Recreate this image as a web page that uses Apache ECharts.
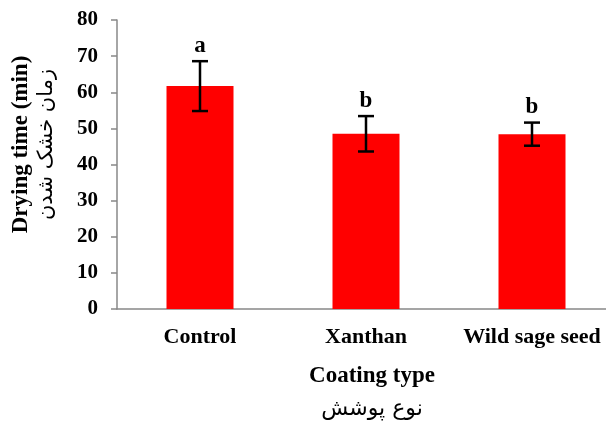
<!DOCTYPE html>
<html>
<head>
<meta charset="utf-8">
<script src="https://cdn.jsdelivr.net/npm/echarts@6/dist/echarts.min.js"></script>
<style>
html,body{margin:0;padding:0;background:#fff;}
#chart{width:606px;height:422px;}
</style>
</head>
<body>
<div id="chart"></div>
<script>
const categories = ['Control', 'Xanthan', 'Wild sage seed'];
const means = [61.7, 48.5, 48.4];
const errors = [6.9, 4.9, 3.2];
const letters = ['a', 'b', 'b'];
const yTicks = [0, 10, 20, 30, 40, 50, 60, 70, 80];

const serif = 'Liberation Serif';
const arabicFont = 'DejaVu Sans';

const errData = categories.map((c, i) => [i, means[i] - errors[i], means[i] + errors[i], letters[i]]);

const chart = echarts.init(document.getElementById('chart'));
chart.setOption({
  animation: false,
  backgroundColor: '#fff',
  grid: { left: 117, top: 20, width: 498, height: 289, containLabel: false, outerBoundsMode: 'none' },
  xAxis: {
    type: 'category',
    data: categories,
    axisLine: { lineStyle: { color: '#888', width: 1.5 } },
    axisTick: { show: false },
    axisLabel: { interval: 0, color: '#000', fontFamily: serif, fontWeight: 'bold', fontSize: 22, margin: 17 },
    name: '{en|Coating type}\n{fa|نوع پوشش}',
    nameLocation: 'middle',
    nameGap: 51,
    nameTextStyle: {
      padding: [0, 0, 0, 12],
      rich: {
        en: { fontFamily: serif, fontWeight: 'bold', fontSize: 23, color: '#000', lineHeight: 33 },
        fa: { fontFamily: arabicFont, fontSize: 22, color: '#000', lineHeight: 33 }
      }
    }
  },
  yAxis: {
    type: 'value',
    min: yTicks[0],
    max: yTicks[yTicks.length - 1],
    interval: 10,
    splitLine: { show: false },
    axisLine: { show: true, lineStyle: { color: '#888', width: 1.5 } },
    axisTick: { show: true, length: 6, lineStyle: { color: '#888', width: 1.5 } },
    axisLabel: { color: '#000', fontFamily: serif, fontWeight: 'bold', fontSize: 21, margin: 19 },
    name: '{en|Drying time (min)}\n{fa|زمان خشک شدن}',
    nameLocation: 'middle',
    nameGap: 57,
    nameRotate: 90,
    nameTextStyle: {
      padding: [0, 0, 0, 40],
      rich: {
        en: { fontFamily: serif, fontWeight: 'bold', fontSize: 23, color: '#000', lineHeight: 26 },
        fa: { fontFamily: arabicFont, fontSize: 21, color: '#000', lineHeight: 26 }
      }
    }
  },
  series: [
    {
      type: 'bar',
      data: means,
      barWidth: 67,
      itemStyle: { color: '#ff0000' }
    },
    {
      type: 'custom',
      data: errData,
      z: 10,
      renderItem: function (params, api) {
        const x = api.value(0);
        const lo = api.coord([x, api.value(1)]);
        const hi = api.coord([x, api.value(2)]);
        const hw = 8;
        const style = { stroke: '#000', lineWidth: 2.5 };
        return {
          type: 'group',
          children: [
            { type: 'line', shape: { x1: hi[0], y1: hi[1], x2: lo[0], y2: lo[1] }, style: style },
            { type: 'line', shape: { x1: hi[0] - hw, y1: hi[1], x2: hi[0] + hw, y2: hi[1] }, style: style },
            { type: 'line', shape: { x1: lo[0] - hw, y1: lo[1], x2: lo[0] + hw, y2: lo[1] }, style: style },
            { type: 'text', style: { text: letters[params.dataIndex], x: hi[0], y: hi[1] - 4, textAlign: 'center', textVerticalAlign: 'bottom', fontFamily: serif, fontWeight: 'bold', fontSize: 23, fill: '#000' } }
          ]
        };
      }
    }
  ]
});
</script>
</body>
</html>
